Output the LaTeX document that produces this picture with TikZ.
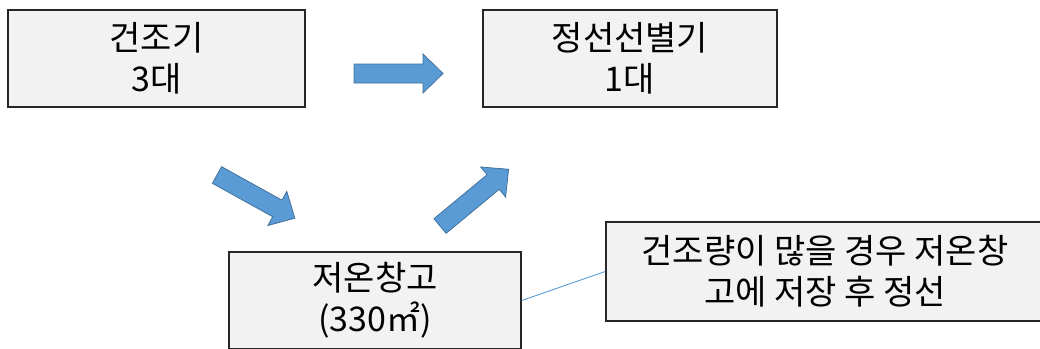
\documentclass[tikz,border=0pt]{standalone}
\usepackage{fontspec}
\setmainfont{Noto Sans CJK KR}
\definecolor{boxfill}{HTML}{F2F2F2}
\definecolor{boxdraw}{HTML}{262626}
\definecolor{arrfill}{HTML}{5B9BD5}
\definecolor{arrdraw}{HTML}{41719C}
\definecolor{linkblue}{HTML}{5B9BD5}
\begin{document}
\begin{tikzpicture}[x=1pt,y=-1pt,
  box/.style={draw=boxdraw, line width=1.6pt, fill=boxfill, minimum width=297pt,
    minimum height=97pt, inner sep=0pt, align=center,
    font=\fontsize{34}{41}\selectfont, text=black},
  blockarrow/.style={fill=arrfill, draw=arrdraw, line width=0.8pt},
  barrow/.pic={\path[blockarrow] (0,-9.5) -- (69,-9.5) -- (69,-19.5) -- (89,0)
     -- (69,19.5) -- (69,9.5) -- (0,9.5) -- cycle;}]
\useasboundingbox (0,0) rectangle (1040,348);
\node[box] (dryer) at (156.5,58.5) {건조기\\3대};
\node[box, minimum width=294pt] (sorter) at (630,58.5) {정선선별기\\1대};
\node[box, minimum width=292pt] (store) at (375,300.5) {저온창고\\(330㎡)};
\node[box, minimum width=438pt, minimum height=99pt] (note) at (825,271.5) {건조량이 많을 경우 저온창\\고에 저장 후 정선};
\draw[linkblue, line width=0.9pt] (store.east) -- (note.west);
\pic at (354,73.5) {barrow};
\pic[rotate=-29] at (217,175) {barrow};
\pic[rotate=39.6] at (440,226) {barrow};
\end{tikzpicture}
\end{document}
